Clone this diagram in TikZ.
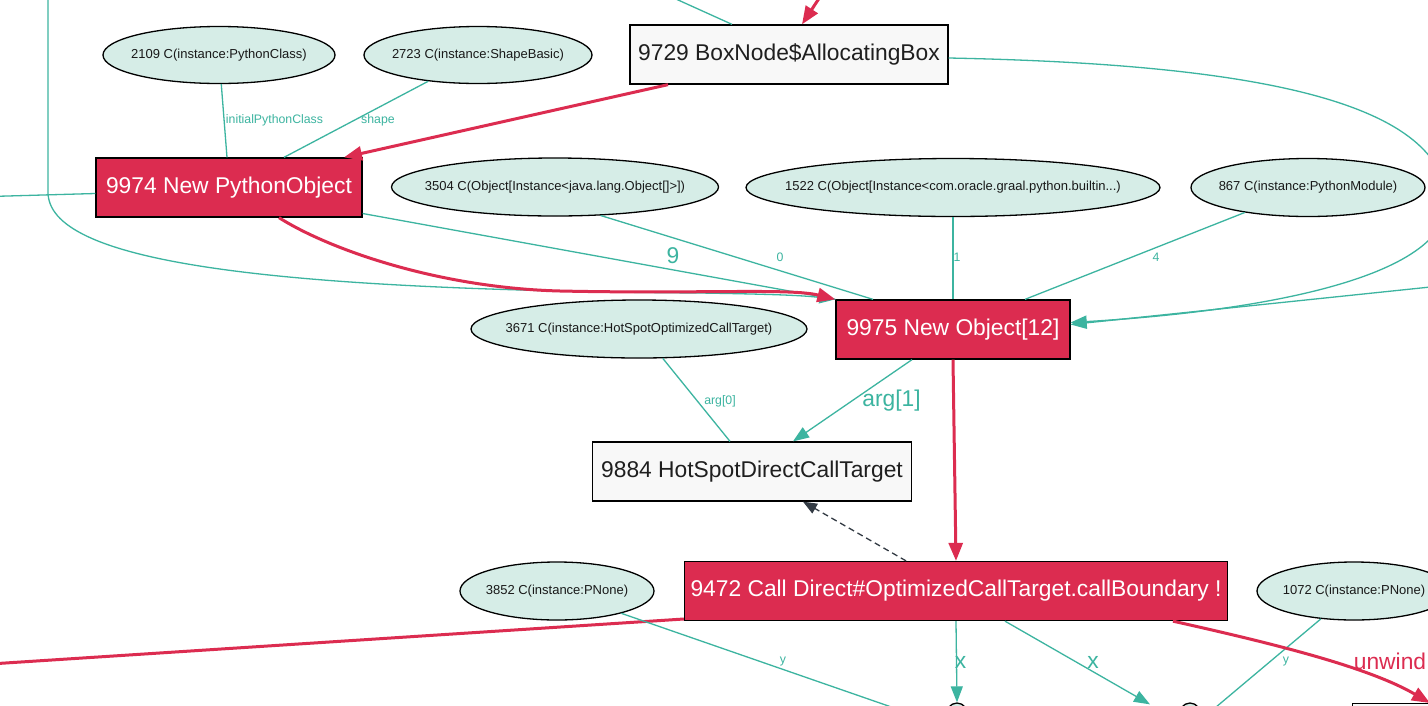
\documentclass[tikz,border=0pt]{standalone}
\usepackage{fontspec}
\setmainfont{Liberation Sans}
\usetikzlibrary{arrows.meta,shapes.geometric,calc}
\definecolor{gred}{HTML}{DC2C50}
\definecolor{gteal}{HTML}{3CB4A0}
\definecolor{efill}{HTML}{D6EDE7}
\definecolor{bfill}{HTML}{F8F8F8}
\definecolor{dgray}{HTML}{333B44}
\newcommand{\bigfs}{\fontsize{22.8}{26}\selectfont}
\newcommand{\elfs}{\fontsize{13}{15}\selectfont}
\newcommand{\labfs}{\fontsize{12.3}{14}\selectfont}
\newcommand{\ctext}[1]{\makebox[0pt]{#1}}
\tikzset{
  redbox/.style={rectangle, draw=black, line width=1.3pt, fill=gred, text=white, font=\bigfs, inner sep=0pt, minimum height=59pt},
  lightbox/.style={rectangle, draw=black, line width=1.3pt, fill=bfill, text=black!88, font=\bigfs, inner sep=0pt, minimum height=59pt},
  constel/.style={ellipse, draw=black, line width=1.3pt, fill=efill, text=black!90, font=\elfs, inner sep=0pt, minimum height=58pt},
  tealedge/.style={draw=gteal, line width=1.3pt},
  tealarrow/.style={tealedge, -{Triangle[length=16pt,width=12pt]}},
  rededge/.style={draw=gred, line width=3pt},
  redarrow/.style={rededge, -{Triangle[length=18pt,width=14pt]}},
  depedge/.style={draw=dgray, line width=1.3pt, dash pattern=on 6pt off 4pt, -{Triangle[length=14pt,width=11pt]}},
  smalllab/.style={text=gteal, font=\labfs, inner sep=0pt},
  biglab/.style={text=gteal, font=\bigfs, inner sep=0pt},
  redlab/.style={text=gred, font=\bigfs, inner sep=0pt},
}
\begin{document}
\begin{tikzpicture}[x=1pt,y=-1pt]
\useasboundingbox (0,0) rectangle (1428,705);
\fill[white] (0,0) rectangle (1428,705);
\clip (0,0) rectangle (1428,705);

% nodes
\node[lightbox, minimum width=318pt] (n9729) at (789,54.5) {9729 BoxNode\$AllocatingBox};
\node[redbox, minimum width=266pt] (n9974) at (229,187.5) {9974 New PythonObject};
\node[redbox, minimum width=234pt] (n9975) at (953,329.5) {9975 New Object[12]};
\node[lightbox, minimum width=319pt] (n9884) at (752,471.5) {9884 HotSpotDirectCallTarget};
\node[redbox, minimum width=543pt] (n9472) at (956,591) {9472 Call Direct\#OptimizedCallTarget.callBoundary !};

\node[constel, minimum width=232pt, minimum height=57pt] (e2109) at (219,55) {\ctext{2109 C(instance:PythonClass)}};
\node[constel, minimum width=228pt, minimum height=57pt] (e2723) at (478,55) {\ctext{2723 C(instance:ShapeBasic)}};
\node[constel, minimum width=327pt] (e3504) at (555,187) {\ctext{3504 C(Object[Instance<java.lang.Object[]>])}};
\node[constel, minimum width=414pt] (e1522) at (953,187.5) {\ctext{1522 C(Object[Instance<com.oracle.graal.python.builtin...)}};
\node[constel, minimum width=234pt] (e867) at (1308,187.5) {\ctext{867 C(instance:PythonModule)}};
\node[constel, minimum width=336pt] (e3671) at (639,329) {\ctext{3671 C(instance:HotSpotOptimizedCallTarget)}};
\node[constel, minimum width=194pt] (e3852) at (557,591) {\ctext{3852 C(instance:PNone)}};
\node[constel, minimum width=194pt] (e1072) at (1354,591) {\ctext{1072 C(instance:PNone)}};

% partially visible nodes at the bottom edge
\node[constel, minimum width=24pt, minimum height=30pt] (nB1) at (957,718) {};
\node[constel, minimum width=24pt, minimum height=30pt] (nB2) at (1190,718) {};
\node[lightbox, minimum width=150pt, anchor=north west] (nBR) at (1352,703) {};

% free ends outside the frame
\coordinate (t1) at (656,-10);
\coordinate (t2) at (824.5,-10);
\coordinate (t3) at (48,-10);
\coordinate (l1) at (-10,196.5);
\coordinate (l2) at (-10,664);
\coordinate (r1) at (1440,286);
\coordinate (b1) at (900,710);
\coordinate (b2) at (1203,718);

% edges
\draw[tealedge] (t1) -- ([xshift=-57pt]n9729.north);
\draw[redarrow] (t2) -- ([xshift=13pt]n9729.north);
\draw[redarrow] ([xshift=-121pt]n9729.south) -- ([xshift=115pt]n9974.north);
\draw[tealedge] (e2109) -- ([xshift=-2pt]n9974.north) node[smalllab, at={(274.5,120)}] {initialPythonClass};
\draw[tealedge] (e2723) -- ([xshift=55pt]n9974.north) node[smalllab, at={(378,120)}] {shape};
\draw[tealedge] (l1) -- ([yshift=-6pt]n9974.west);

\draw[tealarrow] (t3) -- (48,192) .. controls (48,260) and (250,290) .. (700,293)
  .. controls (760,294) and (800,295) .. (n9975.north west);
\draw[tealedge] ([yshift=-26pt]n9974.east) -- (n9975.north west) node[biglab, at={(673,255.5)}] {9};
\draw[redarrow] ([xshift=50pt]n9974.south) .. controls (330,250) and (440,288) .. (560,291)
  .. controls (700,294) and (790,288) .. (n9975.north west);

\draw[tealedge] (e3504.-32.5) -- ([xshift=-80pt]n9975.north) node[smalllab, at={(780,257)}] {0};
\draw[tealedge] (e1522) -- (n9975) node[smalllab, at={(957,257)}] {1};
\draw[tealedge] (e867) -- ([xshift=72pt]n9975.north) node[smalllab, at={(1156,257)}] {4};

\draw[tealarrow] ([yshift=-3.5pt]n9729.east) .. controls (1250,64) and (1440,100) .. (1447,200)
  .. controls (1450,280) and (1250,312) .. ([yshift=7pt]n9975.east);
\draw[tealarrow] (r1) -- ([yshift=5pt]n9975.east);

\draw[tealedge] (e3671) -- ([xshift=-22pt]n9884.north) node[smalllab, at={(720,401)}] {arg[0]};
\draw[tealarrow] ([xshift=-41pt]n9975.south) -- ([xshift=41pt]n9884.north) node[biglab, at={(891.5,401)}] {arg[1]};
\draw[redarrow] (n9975.south) -- (n9472.north);
\draw[depedge] ([xshift=-50pt]n9472.north) -- ([xshift=51pt]n9884.south);

\draw[rededge] ([yshift=-28pt]n9472.west) -- (l2);
\draw[tealedge] (e3852) -- (b1) node[smalllab, at={(783,662)}] {y};
\draw[tealarrow] (n9472.south) -- (nB1.north) node[biglab, at={(960.5,662)}] {x};
\draw[tealarrow] ([xshift=49pt]n9472.south) -- ([xshift=-40pt,yshift=-2pt]nB2.north) node[biglab, at={(1093,662)}] {x};
\draw[tealedge] (e1072) -- (b2) node[smalllab, at={(1286,662)}] {y};
\draw[redarrow] ([xshift=217pt]n9472.south) .. controls (1280,645) and (1370,668) .. ([xshift=78pt]nBR.north west)
  node[redlab, at={(1390,661)}] {unwind};
\end{tikzpicture}
\end{document}
